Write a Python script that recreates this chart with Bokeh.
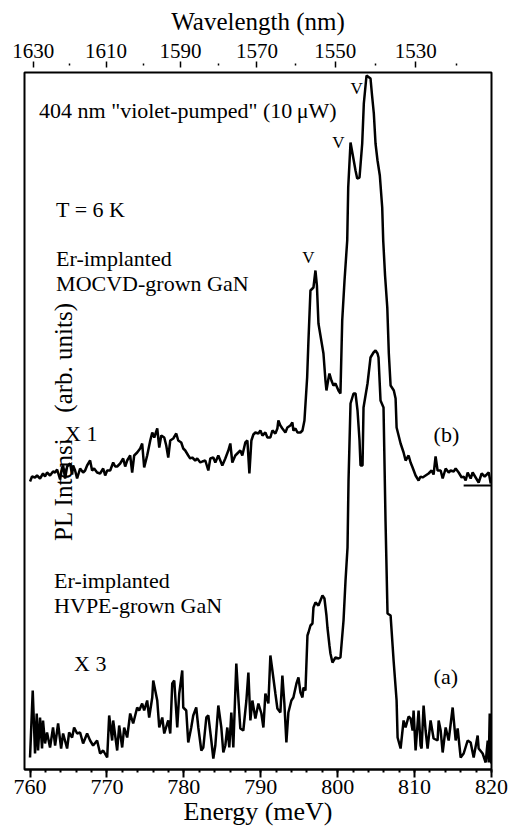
from bokeh.plotting import figure
from bokeh.models import (Range1d, LinearAxis, FixedTicker, SingleIntervalTicker,
                          CustomJSTickFormatter, Label, BoxAnnotation)
from bokeh.embed import file_html
from bokeh.resources import INLINE
import math

# ---------------- data ----------------
# curve (b): Er-implanted MOCVD-grown GaN (x1)
energy_b = [
    760.00, 760.26, 760.65, 760.91, 761.30, 761.69, 761.95, 762.21, 762.60, 762.99,
    763.26, 763.52, 763.91, 764.17, 764.30, 764.56, 764.82, 765.21, 765.47, 765.60,
    765.86, 766.12, 766.51, 766.90, 767.16, 767.42, 767.81, 768.07, 768.33, 768.72,
    769.11, 769.51, 769.77, 770.03, 770.42, 770.81, 771.07, 771.33, 771.72, 772.11,
    772.37, 772.63, 773.02, 773.28, 773.54, 773.93, 774.32, 774.58, 774.84, 775.23,
    775.63, 775.89, 776.15, 776.54, 776.80, 777.06, 777.45, 777.71, 777.97, 778.23,
    778.62, 779.01, 779.27, 779.66, 779.92, 780.18, 780.57, 780.83, 781.09, 781.48,
    781.74, 782.14, 782.40, 782.79, 783.18, 783.44, 783.83, 784.09, 784.48, 784.74,
    785.00, 785.39, 785.78, 786.04, 786.30, 786.69, 786.95, 787.34, 787.60, 787.99,
    788.26, 788.52, 788.78, 789.04, 789.30, 789.69, 789.95, 790.21, 790.60, 790.86,
    791.25, 791.51, 791.90, 792.16, 792.29, 792.55, 792.81, 793.20, 793.46, 793.85,
    794.11, 794.24, 794.51, 794.77, 795.16, 795.42, 795.68, 796.03, 796.20, 796.46,
    796.85, 797.11, 797.30, 797.50, 797.76, 798.15, 798.41, 798.54, 798.80, 798.93,
    799.19, 799.45, 799.71, 800.10, 800.36, 800.59, 800.89, 801.24, 801.37, 801.67,
    802.02, 802.32, 802.54, 802.84, 803.19, 803.40, 803.75, 804.27, 804.47, 804.70,
    804.92, 805.18, 805.48, 805.79, 805.92, 806.16, 806.45, 806.65, 806.88, 807.30,
    807.53, 807.66, 807.92, 808.18, 808.57, 808.83, 809.22, 809.48, 809.74, 810.13,
    810.52, 810.78, 811.04, 811.43, 811.82, 812.21, 812.47, 812.73, 812.99, 813.39,
    813.65, 814.04, 814.43, 814.69, 815.08, 815.34, 815.73, 816.12, 816.38, 816.64,
    816.90, 817.29, 817.55, 817.94, 818.33, 818.72, 819.11, 819.38, 819.64, 819.90,
]
intensity_b = [
    283, 288, 287, 289, 286, 291, 288, 292, 289, 293,
    292, 295, 285, 297, 299, 286, 298, 301, 290, 299,
    294, 286, 296, 292, 294, 299, 304, 294, 296, 292,
    291, 296, 289, 294, 294, 302, 298, 298, 301, 306,
    298, 304, 309, 292, 309, 312, 316, 321, 297, 309,
    324, 332, 327, 336, 317, 329, 327, 319, 307, 324,
    326, 331, 324, 322, 316, 314, 309, 306, 307, 304,
    306, 302, 303, 304, 294, 306, 307, 302, 309, 304,
    299, 306, 314, 321, 302, 309, 311, 314, 309, 322,
    324, 291, 324, 330, 332, 331, 334, 329, 332, 327,
    327, 334, 331, 336, 344, 339, 336, 332, 337, 339,
    342, 334, 336, 332, 332, 334, 344, 387, 424, 474,
    477, 494, 479, 441, 429, 411, 384, 374, 386, 391,
    384, 379, 381, 374, 371, 444, 484, 524, 577, 622,
    607, 594, 586, 587, 621, 661, 689, 686, 669, 651,
    621, 604, 589, 557, 524, 489, 457, 411, 379, 374,
    366, 337, 329, 321, 312, 304, 309, 302, 297, 289,
    284, 288, 287, 289, 291, 294, 290, 308, 294, 294,
    286, 296, 292, 294, 293, 296, 292, 287, 288, 284,
    292, 286, 292, 287, 282, 291, 288, 290, 292, 281,
]
baseline_b = 279          # zero level of curve (b)
baseline_b_from = 816.38  # start of the short zero-level marker (meV)

# curve (a): Er-implanted HVPE-grown GaN (x3)
energy_a = [
    760.00, 760.35, 760.65, 760.87, 761.04, 761.30, 761.56, 761.69, 761.95, 762.21,
    762.60, 762.99, 763.26, 763.65, 764.04, 764.30, 764.82, 765.08, 765.47, 765.73,
    766.12, 766.51, 766.90, 767.42, 767.81, 768.20, 768.72, 769.11, 769.51, 770.03,
    770.29, 770.68, 770.81, 771.33, 771.59, 771.98, 772.24, 772.63, 773.02, 773.41,
    773.93, 774.19, 774.58, 774.84, 775.23, 775.49, 775.89, 776.02, 776.54, 776.80,
    777.19, 777.45, 777.84, 777.97, 778.23, 778.49, 778.75, 779.14, 779.40, 779.79,
    779.92, 780.31, 780.57, 780.96, 781.22, 781.61, 781.88, 782.27, 782.53, 782.92,
    783.18, 783.57, 783.83, 784.09, 784.48, 784.87, 785.13, 785.39, 785.65, 785.91,
    786.17, 786.43, 786.82, 787.08, 787.34, 787.73, 788.13, 788.39, 788.65, 788.91,
    789.30, 789.69, 790.08, 790.34, 790.60, 790.99, 791.25, 791.51, 791.90, 792.16,
    792.55, 792.81, 793.07, 793.33, 793.59, 793.98, 794.24, 794.64, 794.90, 795.16,
    795.42, 795.55, 795.81, 796.07, 796.20, 796.46, 796.72, 796.85, 797.11, 797.50,
    797.76, 798.02, 798.28, 798.54, 798.67, 798.93, 799.06, 799.32, 799.71, 800.10,
    800.36, 800.76, 801.02, 801.28, 801.41, 801.67, 802.06, 802.32, 802.58, 802.84,
    802.97, 803.23, 803.36, 803.62, 803.88, 804.27, 804.66, 804.92, 805.18, 805.31,
    805.57, 805.96, 806.22, 806.48, 806.88, 807.27, 807.66, 807.79, 808.18, 808.57,
    808.83, 809.22, 809.48, 809.74, 809.87, 810.13, 810.52, 810.78, 810.91, 811.17,
    811.43, 811.69, 812.08, 812.47, 812.99, 813.13, 813.39, 813.65, 814.04, 814.43,
    814.95, 815.34, 815.60, 815.99, 816.38, 816.90, 817.29, 817.68, 818.20, 818.33,
    818.85, 819.24, 819.51, 819.64, 819.77, 819.97,
]
intensity_a = [
    7, 74, 11, 51, 14, 47, 16, 44, 21, 32,
    17, 37, 19, 41, 16, 31, 16, 32, 27, 37,
    31, 32, 21, 31, 24, 19, 24, 11, 14, 7,
    49, 24, 44, 14, 39, 17, 37, 27, 51, 41,
    57, 54, 61, 54, 64, 47, 67, 84, 64, 37,
    47, 31, 41, 44, 31, 81, 84, 37, 71, 94,
    57, 54, 22, 37, 49, 57, 37, 14, 17, 47,
    49, 24, 6, 19, 59, 37, 12, 19, 37, 17,
    52, 17, 101, 67, 36, 34, 64, 92, 44, 64,
    46, 61, 51, 37, 71, 61, 109, 94, 71, 56,
    52, 89, 61, 22, 52, 64, 67, 81, 87, 72,
    67, 77, 74, 129, 132, 139, 141, 157, 162, 159,
    164, 169, 166, 149, 137, 119, 111, 102, 107, 106,
    107, 144, 184, 217, 284, 361, 371, 371, 354, 324,
    299, 299, 357, 369, 381, 407, 412, 414, 411, 407,
    364, 357, 244, 151, 149, 104, 64, 27, 16, 44,
    37, 48, 46, 34, 54, 14, 54, 19, 16, 59,
    34, 16, 44, 26, 24, 44, 34, 12, 37, 24,
    57, 24, 36, 7, 11, 24, 22, 7, 29, 16,
    11, 2, 24, 2, 51, 1,
]

# axes
energy_ticks = [760, 770, 780, 790, 800, 810, 820]
wavelength_major = [1630, 1610, 1590, 1570, 1550, 1530]
wavelength_minor = [1620, 1600, 1580, 1560, 1540, 1520]
HC = 1239841.98   # meV * nm
N_AIR = 1.00027   # air wavelengths

FONT = "'Liberation Serif', 'Times New Roman', serif"

# ---------------- figure ----------------
p = figure(width=509, height=831, output_backend="svg", toolbar_location=None,
           x_range=Range1d(759.28, 820), y_range=Range1d(-5, 692),
           y_axis_location=None,
           min_border_left=24, min_border_right=18,
           min_border_top=72, min_border_bottom=62)
p.grid.visible = False
p.outline_line_color = "black"
p.outline_line_width = 2
p.background_fill_color = "white"
p.border_fill_color = "white"

xa = p.xaxis[0]
xa.ticker = SingleIntervalTicker(interval=10, num_minor_ticks=5)
xa.axis_label = "Energy (meV)"
xa.axis_line_width = 2
xa.major_tick_line_width = 2
xa.minor_tick_line_width = 2
xa.major_tick_in = 0
xa.major_tick_out = 8
xa.minor_tick_in = 0
xa.minor_tick_out = 3
xa.major_label_standoff = 2
xa.axis_label_standoff = 0
xa.major_label_text_font = FONT
xa.major_label_text_font_size = "22px"
xa.major_label_text_color = "black"
xa.axis_label_text_font = FONT
xa.axis_label_text_font_size = "26px"
xa.axis_label_text_font_style = "normal"
xa.axis_label_text_color = "black"

top = LinearAxis(
    ticker=FixedTicker(ticks=[HC / (N_AIR * w) for w in wavelength_major],
                       minor_ticks=[HC / (N_AIR * w) for w in wavelength_minor]),
    formatter=CustomJSTickFormatter(
        args=dict(hc=HC, n=N_AIR),
        code="return Math.round(hc / (n * tick)).toString();"),
    axis_label="Wavelength (nm)",
    axis_line_color=None,
    major_tick_in=-5, major_tick_out=11,
    minor_tick_in=-7, minor_tick_out=9,
    major_tick_line_width=1.5, minor_tick_line_width=1.5,
    major_label_standoff=4, axis_label_standoff=6,
    major_label_text_font=FONT, major_label_text_font_size="21px",
    major_label_text_color="black",
    axis_label_text_font=FONT, axis_label_text_font_size="25px",
    axis_label_text_font_style="normal", axis_label_text_color="black",
)
p.add_layout(top, "above")

# y-axis title drawn inside the frame (under the curves)
ylab = Label(x=764.3, y=343, text="PL Intensity (arb. units)", angle=math.pi / 2,
             text_align="center", text_baseline="middle",
             text_font=FONT, text_font_size="25px", text_color="black",
             level="underlay")
p.add_layout(ylab)
mask = BoxAnnotation(left=762.6, right=768.7, bottom=324, top=352,
                     fill_color="white", fill_alpha=1, line_color=None,
                     level="underlay")
p.add_layout(mask)

# curves
p.line(energy_b, intensity_b, line_color="black", line_width=2.5)
p.line(energy_a, intensity_a, line_color="black", line_width=2.5)
p.segment(x0=[baseline_b_from], y0=[baseline_b], x1=[820], y1=[baseline_b],
          line_color="black", line_width=2)

def txt(x, y, s, size="22px", align="left", baseline="alphabetic"):
    p.add_layout(Label(x=x, y=y, text=s, text_font=FONT, text_font_size=size,
                       text_align=align, text_baseline=baseline,
                       text_color="black"))

txt(761.17, 654, "404 nm \"violet-pumped\" (10\u2009\u03bcW)")
txt(763.39, 555, "T = 6 K")
txt(763.39, 506, "Er-implanted")
txt(763.39, 481, "MOCVD-grown GaN")
txt(764.56, 331, "X 1")
txt(812.47, 330, "(b)", baseline="middle")
txt(763.13, 184, "Er-implanted")
txt(763.13, 159, "HVPE-grown GaN")
txt(765.73, 101, "X 3")
txt(812.47, 88, "(a)", baseline="middle")
txt(796.2, 507, "V", size="17px", align="center")
txt(800.1, 622, "V", size="17px", align="center")
txt(802.45, 676, "V", size="17px", align="center")

open("out.html", "w").write(file_html(p, INLINE))
